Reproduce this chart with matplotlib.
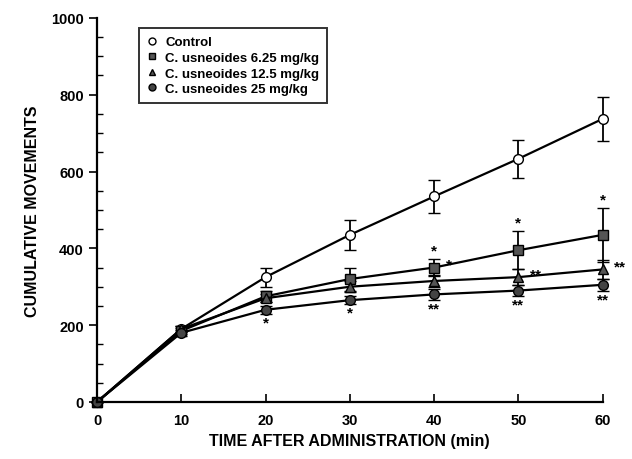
import matplotlib.pyplot as plt
from matplotlib.lines import Line2D
from matplotlib.ticker import MultipleLocator

plt.rcParams['font.family'] = ['Liberation Sans', 'DejaVu Sans']
plt.rcParams['font.weight'] = 'bold'

# time points (min)
times = [0, 10, 20, 30, 40, 50, 60]

control = [0, 190, 325, 435, 535, 633, 737]
control_err = [0, 8, 25, 40, 42, 50, 57]
usn_625 = [0, 185, 275, 320, 350, 395, 435]
usn_625_err = [0, 8, 15, 30, 22, 50, 70]
usn_125 = [0, 190, 270, 300, 315, 325, 345]
usn_125_err = [0, 8, 10, 15, 15, 20, 25]
usn_25 = [0, 180, 240, 265, 280, 290, 305]
usn_25_err = [0, 8, 10, 10, 15, 15, 15]

labels = ['Control', 'C. usneoides 6.25 mg/kg',
          'C. usneoides 12.5 mg/kg', 'C. usneoides 25 mg/kg']

# significance marks: (time, series index, position, text)
stars = [(20, 3, 'below', '*'), (30, 3, 'below', '*'),
         (40, 1, 'above', '*'), (40, 1, 'right', '*'), (40, 3, 'below', '**'),
         (50, 1, 'above', '*'), (50, 2, 'right', '**'), (50, 3, 'below', '**'),
         (60, 1, 'above', '*'), (60, 2, 'right', '**'), (60, 3, 'below', '**')]

fig = plt.figure(figsize=(6.32, 4.6), dpi=100)
ax = fig.add_axes([0.1535, 0.124, 0.80, 0.835])

series = [control, usn_625, usn_125, usn_25]
errs = [control_err, usn_625_err, usn_125_err, usn_25_err]
markers = ['o', 's', '^', 'o']
faces = ['white', '#555555', '#555555', '#444444']

handles = []
for vals, err, mk, fc, lab in zip(series, errs, markers, faces, labels):
    ax.errorbar(times, vals, yerr=err, color='black', lw=1.6, marker=mk,
                markersize=7, markerfacecolor=fc, markeredgecolor='black',
                markeredgewidth=1.0, capsize=4, capthick=1.5, elinewidth=1.3)
    handles.append(Line2D([], [], ls='none', marker=mk, markersize=5,
                          markerfacecolor=fc, markeredgecolor='black',
                          markeredgewidth=1.0, label=lab))

for t, si, pos, txt in stars:
    i = times.index(t)
    v = series[si][i]
    e = errs[si][i]
    if pos == 'below':
        ax.text(t, v - e - 22, txt, ha='center', va='center', fontsize=11)
    elif pos == 'above':
        ax.text(t, v + e + 22, txt, ha='center', va='center', fontsize=11)
    else:
        ax.text(t + 1.4, v + 8, txt, ha='left', va='center', fontsize=11)

ax.set_xlim(0, 60)
ax.set_ylim(0, 1000)
ax.xaxis.set_major_locator(MultipleLocator(10))
ax.yaxis.set_major_locator(MultipleLocator(200))
ax.yaxis.set_minor_locator(MultipleLocator(50))
ax.tick_params(axis='x', direction='in', length=6, width=1.2, labelsize=10.5, pad=8)
ax.tick_params(axis='y', which='major', direction='out', length=6, width=1.2, labelsize=10.5)
ax.tick_params(axis='y', which='minor', direction='in', length=4, width=1.0)
for lbl in ax.get_xticklabels() + ax.get_yticklabels():
    lbl.set_fontweight('bold')

ax.spines['top'].set_visible(False)
ax.spines['right'].set_visible(False)
ax.spines['left'].set_linewidth(1.6)
ax.spines['bottom'].set_linewidth(1.6)

ax.set_xlabel('TIME AFTER ADMINISTRATION (min)', fontsize=11.5, fontweight='bold', labelpad=4)
ax.set_ylabel('CUMULATIVE MOVEMENTS', fontsize=11.5, fontweight='bold', labelpad=8)

leg = ax.legend(handles=handles, loc='upper left', bbox_to_anchor=(0.07, 0.99),
                frameon=True, fancybox=False, edgecolor='black', fontsize=9.5,
                handlelength=0.8, handletextpad=0.6, borderpad=0.6,
                labelspacing=0.25, numpoints=1)
leg.get_frame().set_linewidth(1.4)
for t in leg.get_texts():
    t.set_fontweight('bold')

for c in ax.get_children():
    c.set_clip_on(False)

fig.savefig('out.png', dpi=100)
